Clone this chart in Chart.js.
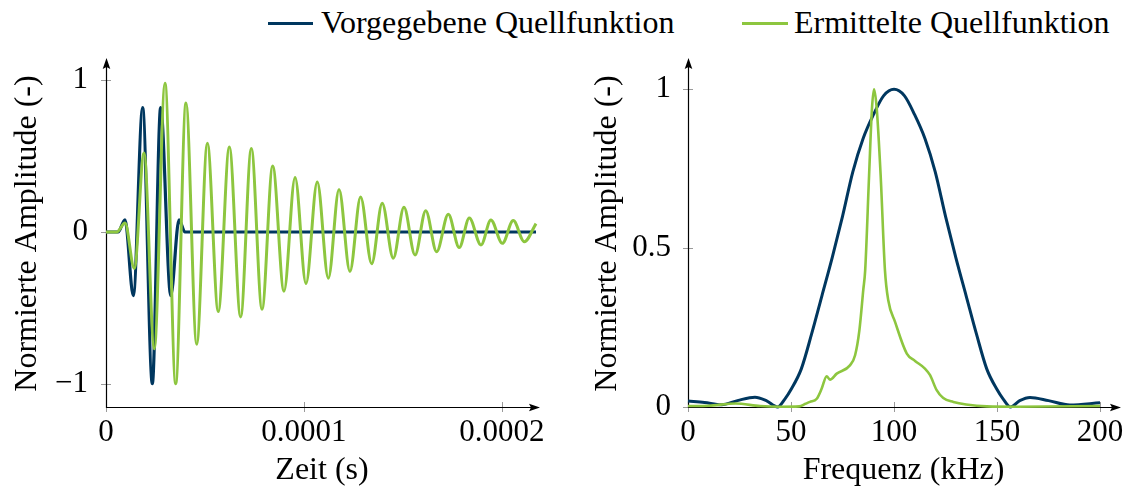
<!DOCTYPE html>
<html>
<head>
<meta charset="utf-8">
<script src="https://cdn.jsdelivr.net/npm/chart.js@4.4.1/dist/chart.umd.min.js"></script>
<style>
  html, body { margin: 0; padding: 0; background: #fff; }
  body { width: 1125px; height: 488px; position: relative; overflow: hidden; }
  .panel { position: absolute; top: 0; height: 488px; }
  .key { position: absolute; height: 3px; top: 22px; }
  .lab { position: absolute; top: 6px; font-family: "Liberation Serif", serif; font-size: 32px;
         line-height: 1; white-space: nowrap; color: #000; }
</style>
</head>
<body>
<div id="legend"></div>
<div class="panel" style="left:0;width:562px"><canvas id="zeit" width="562" height="488"></canvas></div>
<div class="panel" style="left:562px;width:563px"><canvas id="spektrum" width="563" height="488"></canvas></div>
<script>
// ---- series labels and colours ----
const seriesLabels = ['Vorgegebene Quellfunktion', 'Ermittelte Quellfunktion'];
const seriesColors = ['#00375f', '#8dc63f'];

// ---- time signal, prescribed source (time in microseconds, normalised amplitude) ----
const vorgabeZeitUs = [0, 6.1, 9.6, 13.8, 18.5, 23.4, 27.6, 32.7, 36.9, 39.9, 217.2];
const vorgabeAmp    = [0, 0,   0.08, -0.42, 0.82, -1.0, 0.82, -0.42, 0.08, 0,  0];

// ---- time signal, identified source ----
const ermitteltZeitUs = [0, 5.4, 9.6, 14.3, 19.2, 24.4, 29.8, 35.2, 40.4, 45.8, 51.2, 56.7, 62.3, 68.0,
  73.4, 78.8, 84.2, 89.9, 95.5, 101.0, 106.7, 112.3, 117.7, 123.2, 128.6, 134.2, 139.5, 145.1,
  150.5, 156.1, 161.5, 167.0, 172.9, 178.4, 183.5, 189.4, 194.4, 200.2, 205.7, 211.3, 217.2];
const ermitteltAmp = [0, 0, 0.06, -0.24, 0.52, -0.77, 0.98, -1.0, 0.85, -0.74, 0.585, -0.525, 0.56, -0.56,
  0.55, -0.51, 0.435, -0.39, 0.36, -0.34, 0.33, -0.305, 0.28, -0.26, 0.23, -0.21, 0.19, -0.173,
  0.163, -0.152, 0.14, -0.13, 0.117, -0.103, 0.092, -0.086, 0.079, -0.075, 0.075, -0.064, 0.055];

// ---- amplitude spectra (frequency in kHz) ----
const vorgabeFreq = [0, 8, 16.3, 24, 32.5, 38, 43.5, 47, 50, 55, 60, 65, 70, 75, 80, 85, 90, 95, 100,
  105, 110, 115, 120, 125, 130, 135, 140, 145, 150, 153, 156.5, 161, 166, 175, 185.4, 200];
const vorgabeSpek = [0.019, 0.014, 0.007, 0.02, 0.031, 0.02, 0.0, 0.025, 0.055, 0.12, 0.23, 0.35, 0.47, 0.6, 0.74, 0.845, 0.92, 0.98, 1.0,
  0.98, 0.92, 0.845, 0.74, 0.6, 0.47, 0.35, 0.23, 0.12, 0.055, 0.025, 0.0, 0.02, 0.03, 0.02, 0.006, 0.013];

const ermitteltFreq = [0, 10, 23, 35, 45, 54, 57, 59.2, 62.5, 64.9, 67.3, 68.9, 72.2, 78.6, 81.1, 83.2,
  85.1, 86, 87.9, 89.3, 90.3, 91.6, 93.5, 95.6, 97.2, 100.5, 106.2, 110.2, 115, 117.5, 120.7,
  123.9, 128.8, 135, 145, 160, 200];
const ermitteltSpek = [0.003, 0.004, 0.011, 0.003, 0.001, 0.002, 0.01, 0.016, 0.026, 0.058, 0.097, 0.086, 0.105, 0.131, 0.163, 0.242,
  0.37, 0.43, 0.73, 0.94, 1.0, 0.94, 0.73, 0.43, 0.336, 0.268, 0.168, 0.145, 0.121, 0.1, 0.053,
  0.028, 0.016, 0.008, 0.002, 0.001, 0.003];

// ---- axis ticks ----
const zeitTicks = [0, 0.0001, 0.0002];
const zeitTickLabels = ['0', '0.0001', '0.0002'];
const ampTicks = [-1, 0, 1];
const ampTickLabels = ['\u22121', '0', '1'];
const freqTicks = [0, 50, 100, 150, 200];
const freqTickLabels = ['0', '50', '100', '150', '200'];
const spekTicks = [0, 0.5, 1];
const spekTickLabels = ['0', '0.5', '1'];

const TICK_FONT = { family: '"Liberation Serif", serif', size: 31, lineHeight: 1 };
const TITLE_FONT = { family: '"Liberation Serif", serif', size: 32, lineHeight: 1 };

// legend built from the series definitions
const legend = document.getElementById('legend');
const legendPos = [{ line: 268, len: 45, text: 321 }, { line: 742, len: 46, text: 794 }];
seriesLabels.forEach((lbl, i) => {
  const k = document.createElement('div');
  k.className = 'key';
  k.style.left = legendPos[i].line + 'px';
  k.style.width = legendPos[i].len + 'px';
  k.style.background = seriesColors[i];
  legend.appendChild(k);
  const t = document.createElement('div');
  t.className = 'lab';
  t.style.left = legendPos[i].text + 'px';
  t.textContent = lbl;
  legend.appendChild(t);
});

// axis lines with arrow heads and small tick marks across the axis
const arrowAxes = {
  id: 'arrowAxes',
  beforeDatasetsDraw(chart) {
    const { ctx, chartArea: a, scales: { x, y } } = chart;
    ctx.save();
    ctx.strokeStyle = '#9a9a9a';
    ctx.lineWidth = 1;
    ctx.beginPath();
    x.ticks.forEach(t => {
      const px = Math.round(x.getPixelForValue(t.value)) + 0.5;
      ctx.moveTo(px, a.bottom - 5); ctx.lineTo(px, a.bottom + 5);
    });
    y.ticks.forEach(t => {
      const py = Math.round(y.getPixelForValue(t.value)) + 0.5;
      ctx.moveTo(a.left - 5, py); ctx.lineTo(a.left + 5, py);
    });
    ctx.stroke();
    const L = Math.round(a.left) + 0.5, B = Math.round(a.bottom) + 0.5;
    ctx.strokeStyle = '#000';
    ctx.lineWidth = 1.2;
    ctx.beginPath();
    ctx.moveTo(L, a.top + 6); ctx.lineTo(L, B); ctx.lineTo(a.right - 6, B);
    ctx.stroke();
    ctx.fillStyle = '#000';
    ctx.beginPath();
    ctx.moveTo(L, a.top - 2); ctx.lineTo(L - 3.8, a.top + 9); ctx.lineTo(L, a.top + 7); ctx.lineTo(L + 3.8, a.top + 9);
    ctx.closePath(); ctx.fill();
    ctx.beginPath();
    ctx.moveTo(a.right + 2, B); ctx.lineTo(a.right - 9, B - 3.8); ctx.lineTo(a.right - 7, B); ctx.lineTo(a.right - 9, B + 3.8);
    ctx.closePath(); ctx.fill();
    ctx.restore();
  }
};

function fixedTicks(values) {
  return scale => { scale.ticks = values.map(v => ({ value: v })); };
}

function makeScale(opts) {
  return {
    type: 'linear',
    min: opts.min, max: opts.max,
    afterBuildTicks: fixedTicks(opts.ticks),
    ticks: {
      font: TICK_FONT, color: '#000', padding: opts.pad, autoSkip: false, maxRotation: 0,
      callback: (v, i) => opts.labels[i]
    },
    grid: { display: false, drawTicks: false },
    border: { display: false },
    title: { display: true, text: opts.title, font: TITLE_FONT, color: '#000', padding: opts.titlePad },
    afterFit: opts.fit
  };
}

function line(i, xs, ys, scaleX, width) {
  return {
    label: seriesLabels[i],
    data: xs.map((v, k) => ({ x: v * scaleX, y: ys[k] })),
    borderColor: seriesColors[i],
    borderWidth: width,
    pointRadius: 0,
    fill: false,
    cubicInterpolationMode: 'monotone',
    order: i === 1 ? 0 : 1,
    clip: 4
  };
}

const common = {
  responsive: false,
  animation: false,
  events: [],
  plugins: { legend: { display: false }, tooltip: { enabled: false } }
};

new Chart(document.getElementById('zeit'), {
  type: 'line',
  data: {
    datasets: [
      line(0, vorgabeZeitUs, vorgabeAmp, 1e-6, 3.2),
      line(1, ermitteltZeitUs, ermitteltAmp, 1e-6, 3)
    ]
  },
  options: {
    ...common,
    layout: { padding: { top: 60, left: 0, right: 24, bottom: 0 } },
    scales: {
      x: makeScale({ min: 0, max: 2.182e-4, ticks: zeitTicks, labels: zeitTickLabels, pad: 10,
        title: 'Zeit (s)', titlePad: { top: 0, bottom: 1 },
        fit: s => { s.height = 81; s.paddingLeft = 0; s.paddingRight = 0; } }),
      y: makeScale({ min: -1.154, max: 1.134, ticks: ampTicks, labels: ampTickLabels, pad: 18,
        title: 'Normierte Amplitude (-)', titlePad: { top: 12, bottom: 0 },
        fit: s => { s.width = 106; s.paddingTop = 0; s.paddingBottom = 0; } })
    }
  },
  plugins: [arrowAxes]
});

new Chart(document.getElementById('spektrum'), {
  type: 'line',
  data: {
    datasets: [
      line(0, vorgabeFreq, vorgabeSpek, 1, 3),
      line(1, ermitteltFreq, ermitteltSpek, 1, 2.6)
    ]
  },
  options: {
    ...common,
    layout: { padding: { top: 60, left: 0, right: 6, bottom: 0 } },
    scales: {
      x: makeScale({ min: 0, max: 209.2, ticks: freqTicks, labels: freqTickLabels, pad: 10,
        title: 'Frequenz (kHz)', titlePad: { top: 0, bottom: 1 },
        fit: s => { s.height = 81; s.paddingLeft = 0; s.paddingRight = 0; } }),
      y: makeScale({ min: 0, max: 1.092, ticks: spekTicks, labels: spekTickLabels, pad: 17,
        title: 'Normierte Amplitude (-)', titlePad: { top: 30, bottom: 0 },
        fit: s => { s.width = 126; s.paddingTop = 0; s.paddingBottom = 0; } })
    }
  },
  plugins: [arrowAxes]
});
</script>
</body>
</html>
